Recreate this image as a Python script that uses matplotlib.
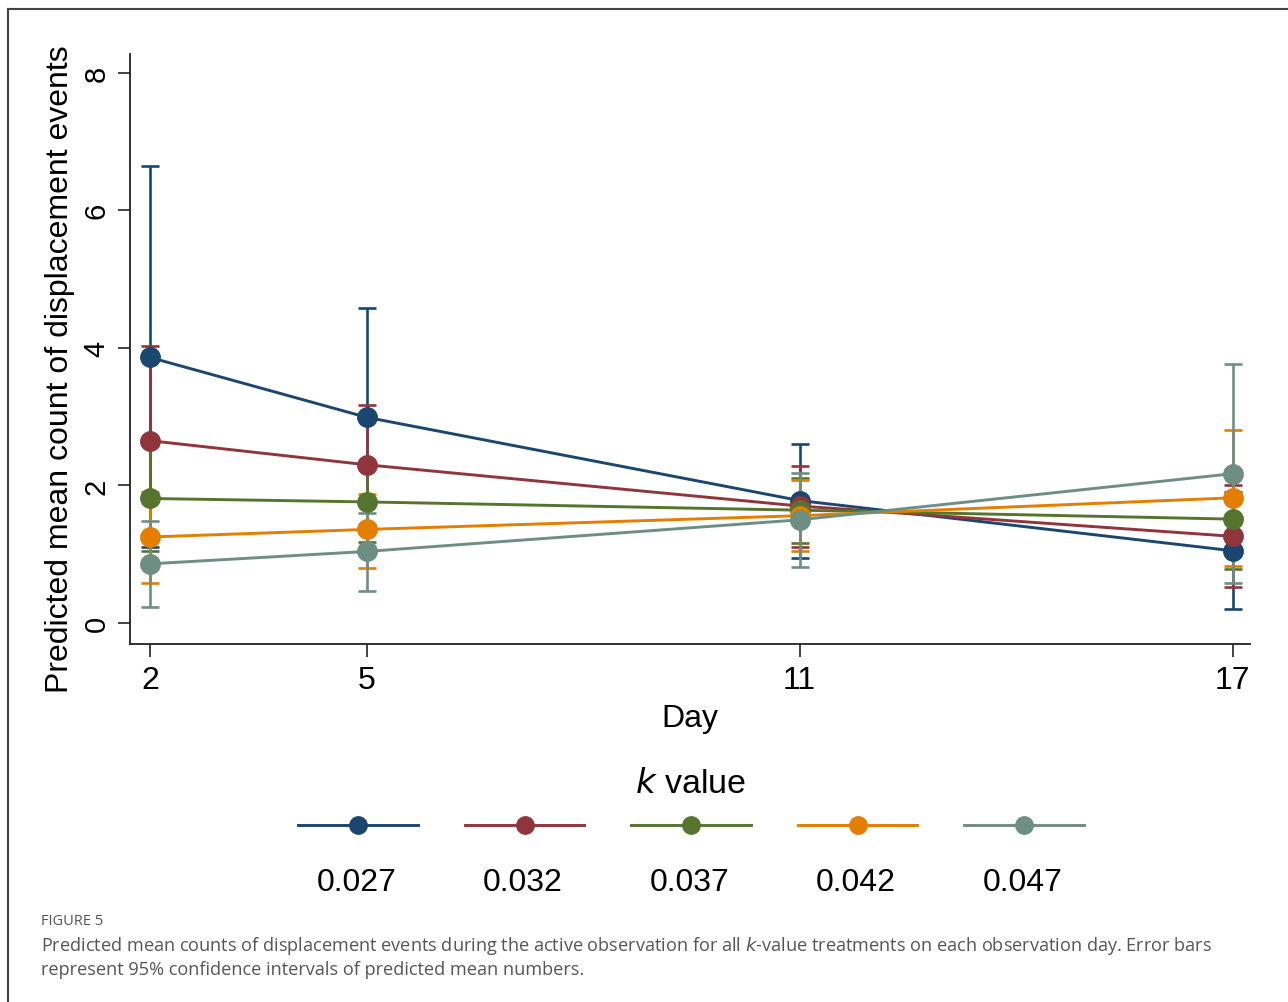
import matplotlib.pyplot as plt
from matplotlib.lines import Line2D

plt.rcParams['font.family'] = ['Liberation Sans', 'DejaVu Sans']

# data
days = [2, 5, 11, 17]
k_values = ['0.027', '0.032', '0.037', '0.042', '0.047']
colors = ['#1a476f', '#90353b', '#55752f', '#e37e00', '#6e8e84']

mean_027 = [3.86, 2.99, 1.78, 1.05]
lo_027 = [1.10, 1.40, 0.95, 0.20]
hi_027 = [6.64, 4.58, 2.60, 1.91]

mean_032 = [2.65, 2.30, 1.70, 1.26]
lo_032 = [1.28, 1.43, 1.11, 0.52]
hi_032 = [4.02, 3.17, 2.28, 2.01]

mean_037 = [1.81, 1.76, 1.64, 1.51]
lo_037 = [1.04, 1.18, 1.17, 0.79]
hi_037 = [2.58, 2.34, 2.11, 2.23]

mean_042 = [1.25, 1.36, 1.56, 1.82]
lo_042 = [0.58, 0.80, 1.04, 0.83]
hi_042 = [1.91, 1.88, 2.08, 2.80]

mean_047 = [0.86, 1.04, 1.50, 2.17]
lo_047 = [0.23, 0.46, 0.82, 0.58]
hi_047 = [1.48, 1.60, 2.18, 3.76]

means = [mean_027, mean_032, mean_037, mean_042, mean_047]
lows = [lo_027, lo_032, lo_037, lo_042, lo_047]
highs = [hi_027, hi_032, hi_037, hi_042, hi_047]

W, H = 1288, 1003
fig = plt.figure(figsize=(W / 100, H / 100), dpi=100)
ax = fig.add_axes([130 / W, 1 - 645 / H, 1120 / W, 590 / H])

# error bars first, then the connected means on top
for m, lo, hi, c in zip(means, lows, highs, colors):
    yerr = [[a - b for a, b in zip(m, lo)], [b - a for a, b in zip(m, hi)]]
    ax.errorbar(days, m, yerr=yerr, fmt='none', ecolor=c, elinewidth=1.9,
                capsize=6.2, capthick=1.9, zorder=2)
for m, c in zip(means, colors):
    ax.plot(days, m, '-o', color=c, lw=2.1, ms=14, zorder=3)

ax.set_xlim(1.723, 17.24)
ax.set_ylim(-0.305, 8.27)
ax.set_xticks(days)
ax.set_yticks([0, 2, 4, 6, 8])
ax.tick_params(axis='both', direction='out', length=9, width=1.2, color='#222222')
ax.tick_params(axis='x', labelsize=23, pad=6)
ax.tick_params(axis='y', labelsize=21, pad=5)
for t in ax.get_yticklabels():
    t.set_rotation(90)
    t.set_va('center')
for s in ['top', 'right']:
    ax.spines[s].set_visible(False)
for s in ['left', 'bottom']:
    ax.spines[s].set_linewidth(1.3)
    ax.spines[s].set_color('#222222')
ax.set_xlabel('Day', fontsize=23, labelpad=6)
ax.set_ylabel('Predicted mean count of displacement events', fontsize=23, labelpad=6)
ax.yaxis.set_label_coords(-0.049, 0.468)

# legend laid out with labels under the keys
fig.text(690 / W, 1 - 785 / H, r'$\it{k}$ value', fontsize=24.5, ha='center', va='center')
lax = fig.add_axes([290 / W, 1 - 900 / H, 810 / W, 100 / H])
lax.set_xlim(0, 5)
lax.set_ylim(0, 1)
lax.axis('off')
for i, (lab, c) in enumerate(zip(k_values, colors)):
    cx = 0.42 + i * (166.5 / 162)
    lax.plot([cx - 0.37, cx + 0.37], [0.74, 0.74], color=c, lw=2.1)
    lax.plot([cx], [0.74], 'o', color=c, ms=12.5)
    lax.text(cx - 0.01, 0.17, lab, fontsize=23, ha='center', va='center')

# page frame
fig.add_artist(Line2D([8 / W, 1], [1 - 10 / H, 1 - 10 / H], color='#444444', lw=1.5))
fig.add_artist(Line2D([8 / W, 8 / W], [1 - 10 / H, 0], color='#444444', lw=1.5))

# caption
fig.text(41 / W, 1 - 922 / H, 'FIGURE 5', fontsize=10.5, color='#555555',
         family=['Open Sans', 'DejaVu Sans'], va='center')
fig.text(41 / W, 1 - 946 / H,
         'Predicted mean counts of displacement events during the active observation for all '
         r'$\it{k}$' '-value treatments on each observation day. Error bars',
         fontsize=13.1, color='#555555', family=['Open Sans', 'DejaVu Sans'], va='center')
fig.text(41 / W, 1 - 970 / H,
         'represent 95% confidence intervals of predicted mean numbers.',
         fontsize=13.1, color='#555555', family=['Open Sans', 'DejaVu Sans'], va='center')

fig.savefig('out.png', dpi=100)
